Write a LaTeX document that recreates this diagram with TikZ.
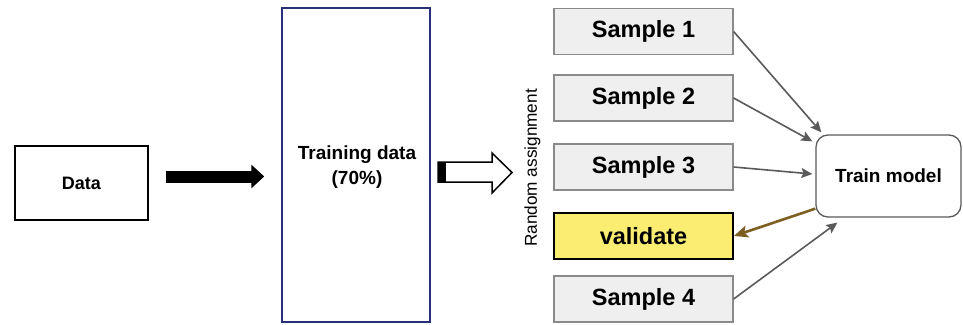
\documentclass[tikz,border=0pt]{standalone}
\usepackage{fontspec}
\setmainfont{Liberation Sans}
\usetikzlibrary{arrows.meta}
\definecolor{sgray}{HTML}{EFEFEF}
\definecolor{sborder}{HTML}{8A8A8A}
\definecolor{navy}{HTML}{28307A}
\definecolor{valfill}{HTML}{FBEC72}
\definecolor{conn}{HTML}{5A5A5A}
\definecolor{brownarrow}{HTML}{7D5F23}
\begin{document}
\begin{tikzpicture}[x=1pt,y=-1pt,
  samplebox/.style={draw=sborder, fill=sgray, line width=1.2pt, minimum width=179pt, minimum height=46pt, inner sep=0pt, font=\fontsize{23.5}{28}\selectfont\bfseries},
  valbox/.style={samplebox, draw=black, fill=valfill, line width=1.8pt},
  conarrow/.style={draw=conn, line width=1.6pt, -{Stealth[length=11pt,width=10pt,inset=2pt]}},
]
\useasboundingbox (0,0) rectangle (963,324);
% left boxes
\node[draw=black, line width=1.5pt, minimum width=133pt, minimum height=74pt, inner sep=0pt,
      font=\fontsize{18}{22}\selectfont\bfseries] (data) at (81.5,183) {Data};
\node[draw=navy, line width=1.5pt, minimum width=148pt, minimum height=314pt, inner sep=0pt] (train) at (356,165) {};
\node[align=center, font=\fontsize{19}{25}\selectfont\bfseries] (traintxt) at (357,167) {Training data\\(70\%)};
% black arrow
\draw[line width=12pt, shorten <=17pt, shorten >=17pt, -{Triangle[length=13pt,width=23pt]}]
  ([yshift=6.5pt]data.east) -- ([yshift=6.5pt]data.east -| train.west);
% hollow arrow
\draw[line width=1.5pt, line join=miter, fill=white] (438,162) -- (492,162) -- (492,153) -- (512,172.5) -- (492,193) -- (492,182) -- (438,182) -- cycle;
\fill[black] (438,162) rectangle (446,182);
% random assignment
\node[rotate=90, font=\fontsize{17.2}{20}\selectfont, inner sep=0pt] (ra) at (532.5,168) {Random assignment};
% samples
\node[samplebox] (s1) at (643.5,31.5) {Sample 1};
\node[samplebox] (s2) at (643.5,98) {Sample 2};
\node[samplebox] (s3) at (643.5,167) {Sample 3};
\node[valbox] (val) at (643.5,236) {validate};
\node[samplebox] (s4) at (643.5,299) {Sample 4};
% train model
\node[draw=conn, line width=1.3pt, rounded corners=12pt, fill=white, minimum width=145pt, minimum height=82pt, inner sep=0pt,
      font=\fontsize{19}{23}\selectfont\bfseries] (tm) at (888.5,176) {Train model};
% connectors
\draw[conarrow] (s1.east) -- ([xshift=6pt,yshift=2pt]tm.north west);
\draw[conarrow] (s2.east) -- ([xshift=-3pt,yshift=-7pt]tm.north west);
\draw[conarrow] (s3.east) -- ([xshift=-3pt,yshift=2pt]tm.west);
\draw[conarrow] (s4.east) -- ([xshift=22pt,yshift=-5pt]tm.south west);
\draw[draw=brownarrow, line width=2.6pt, -{Stealth[length=14pt,width=12pt,inset=3pt]}] ([yshift=9pt]tm.south west) -- (val.east);
\end{tikzpicture}
\end{document}
